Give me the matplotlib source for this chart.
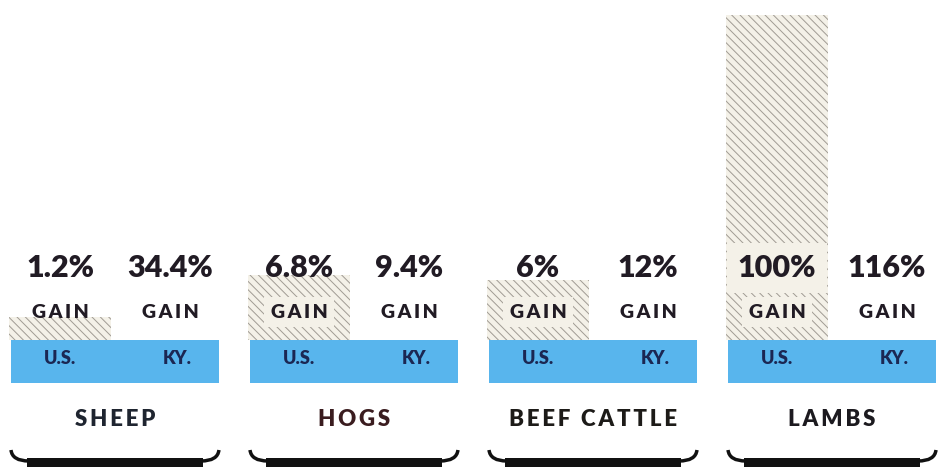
import matplotlib
matplotlib.use("Agg")
import matplotlib.pyplot as plt
import numpy as np
from matplotlib.path import Path
from matplotlib.patches import PathPatch

# livestock price gains, U.S. vs Kentucky
categories = ["SHEEP", "HOGS", "BEEF CATTLE", "LAMBS"]
us_gain = [1.2, 6.8, 6, 100]
ky_gain = [34.4, 9.4, 12, 116]
us_labels = ["1.2%", "6.8%", "6%", "100%"]
ky_labels = ["34.4%", "9.4%", "12%", "116%"]


def main():
    plt.rcParams["font.family"] = ["Lato", "DejaVu Sans"]
    plt.rcParams["hatch.linewidth"] = 0.7

    fig = plt.figure(figsize=(9.41, 4.67), dpi=100)
    ax = fig.add_axes([0, 127 / 467, 1, 340 / 467])
    ax2 = fig.add_axes([0, 0, 1, 127 / 467])

    x = np.arange(len(categories))
    off = 0.23
    band_blue = "#58b5ed"
    navy = "#1b2753"
    dark = "#211b24"
    cat_colors = ["#1f2530", "#3a1c1f", "#1d1b18", "#1c1a1f"]
    gain = "\u2009".join("GAIN")

    # the artist's bars are not linear; a power scale comes close
    ax.set_yscale("function", functions=(lambda v: np.power(np.clip(v, 0, None), 0.6),
                                         lambda v: np.power(np.clip(v, 0, None), 1 / 0.6)))
    ax.set_ylim(0, 108)
    ax.set_xlim(-0.481, 3.456)

    ax.bar(x - off, us_gain, width=0.43, color="#f4f1e8", edgecolor="#a09b93",
           linewidth=0, hatch="\\\\\\\\", zorder=1)

    # text over the bars
    tr = ax.get_xaxis_transform()
    for i in range(len(categories)):
        top = ax.transAxes.inverted().transform(ax.transData.transform((0, us_gain[i])))[1]
        for lab, y, fs in [(us_labels[i], 0.212, 22), (gain, 0.082, 14)]:
            box = None
            if top > y + 0.05:
                box = dict(boxstyle="square,pad=0.35", fc="#f4f1e8", ec="none")
            ax.text(x[i] - off, y, lab, transform=tr, ha="center", va="center",
                    fontsize=fs, fontweight="heavy", color=dark, bbox=box, zorder=3)
        ax.text(x[i] + off, 0.212, ky_labels[i], transform=tr, ha="center", va="center",
                fontsize=22, fontweight="heavy", color=dark, zorder=3)
        ax.text(x[i] + off, 0.082, gain, transform=tr, ha="center", va="center",
                fontsize=14, fontweight="heavy", color=dark, zorder=3)
    ax.axis("off")

    # lower strip: blue band, names, brackets (y in pixels below the bars)
    ax2.set_xlim(-0.481, 3.456)
    ax2.set_ylim(127, 0)
    ax2.bar(x, 43, width=0.87, bottom=0, color=band_blue, zorder=2)
    for i, c in enumerate(x):
        ax2.text(c - off, 19, "U.S.", ha="center", va="center", fontsize=13,
                 fontweight="heavy", color=navy, zorder=3)
        ax2.text(c + off + 0.03, 19, "KY.", ha="center", va="center", fontsize=13,
                 fontweight="heavy", color=navy, zorder=3)
        ax2.text(c, 80, "\u2009".join(categories[i]), ha="center",
                 va="center", fontsize=16, fontweight="heavy", color=cat_colors[i])
        verts = [(c - 0.435, 110), (c - 0.43, 121), (c - 0.36, 121),
                 (c + 0.36, 121), (c + 0.43, 121), (c + 0.435, 110)]
        codes = [Path.MOVETO, Path.CURVE3, Path.CURVE3, Path.LINETO, Path.CURVE3, Path.CURVE3]
        ax2.add_patch(PathPatch(Path(verts, codes), fc="none", ec="#111111", lw=2.5))
        ax2.bar(c, 9, width=0.74, bottom=118, color="#111111")
    ax2.axis("off")

    fig.savefig("out.png", dpi=100, facecolor="white")


if __name__ == "__main__":
    main()
